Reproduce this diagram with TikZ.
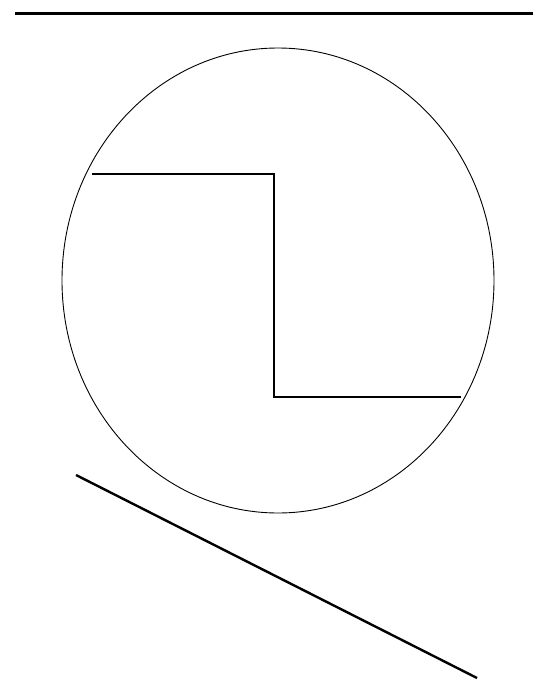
\documentclass[tikz,border=0pt]{standalone}
\usetikzlibrary{shapes.geometric}
\begin{document}
\begin{tikzpicture}[x=1pt,y=-1pt,
  thick line/.style={line width=2.4pt},
  thin line/.style={line width=0.9pt}]
\useasboundingbox (0,0) rectangle (533,680);
\coordinate (t1) at (15,13);
\coordinate (t2) at (533,13);
\draw[line width=3pt] (t1) -- (t2);
\node[draw, thin line, ellipse, minimum width=432pt, minimum height=465pt, inner sep=0pt] (c) at (278,280.5) {};
\coordinate (s1) at (92,174);
\coordinate (s2) at (274,174);
\coordinate (s3) at (274,397);
\coordinate (s4) at (461,397);
\draw[thick line] (s1) -- (s2) -- (s3) -- (s4);
\coordinate (d1) at (76,475);
\coordinate (d2) at (477,678);
\draw[thick line] (d1) -- (d2);
\end{tikzpicture}
\end{document}
